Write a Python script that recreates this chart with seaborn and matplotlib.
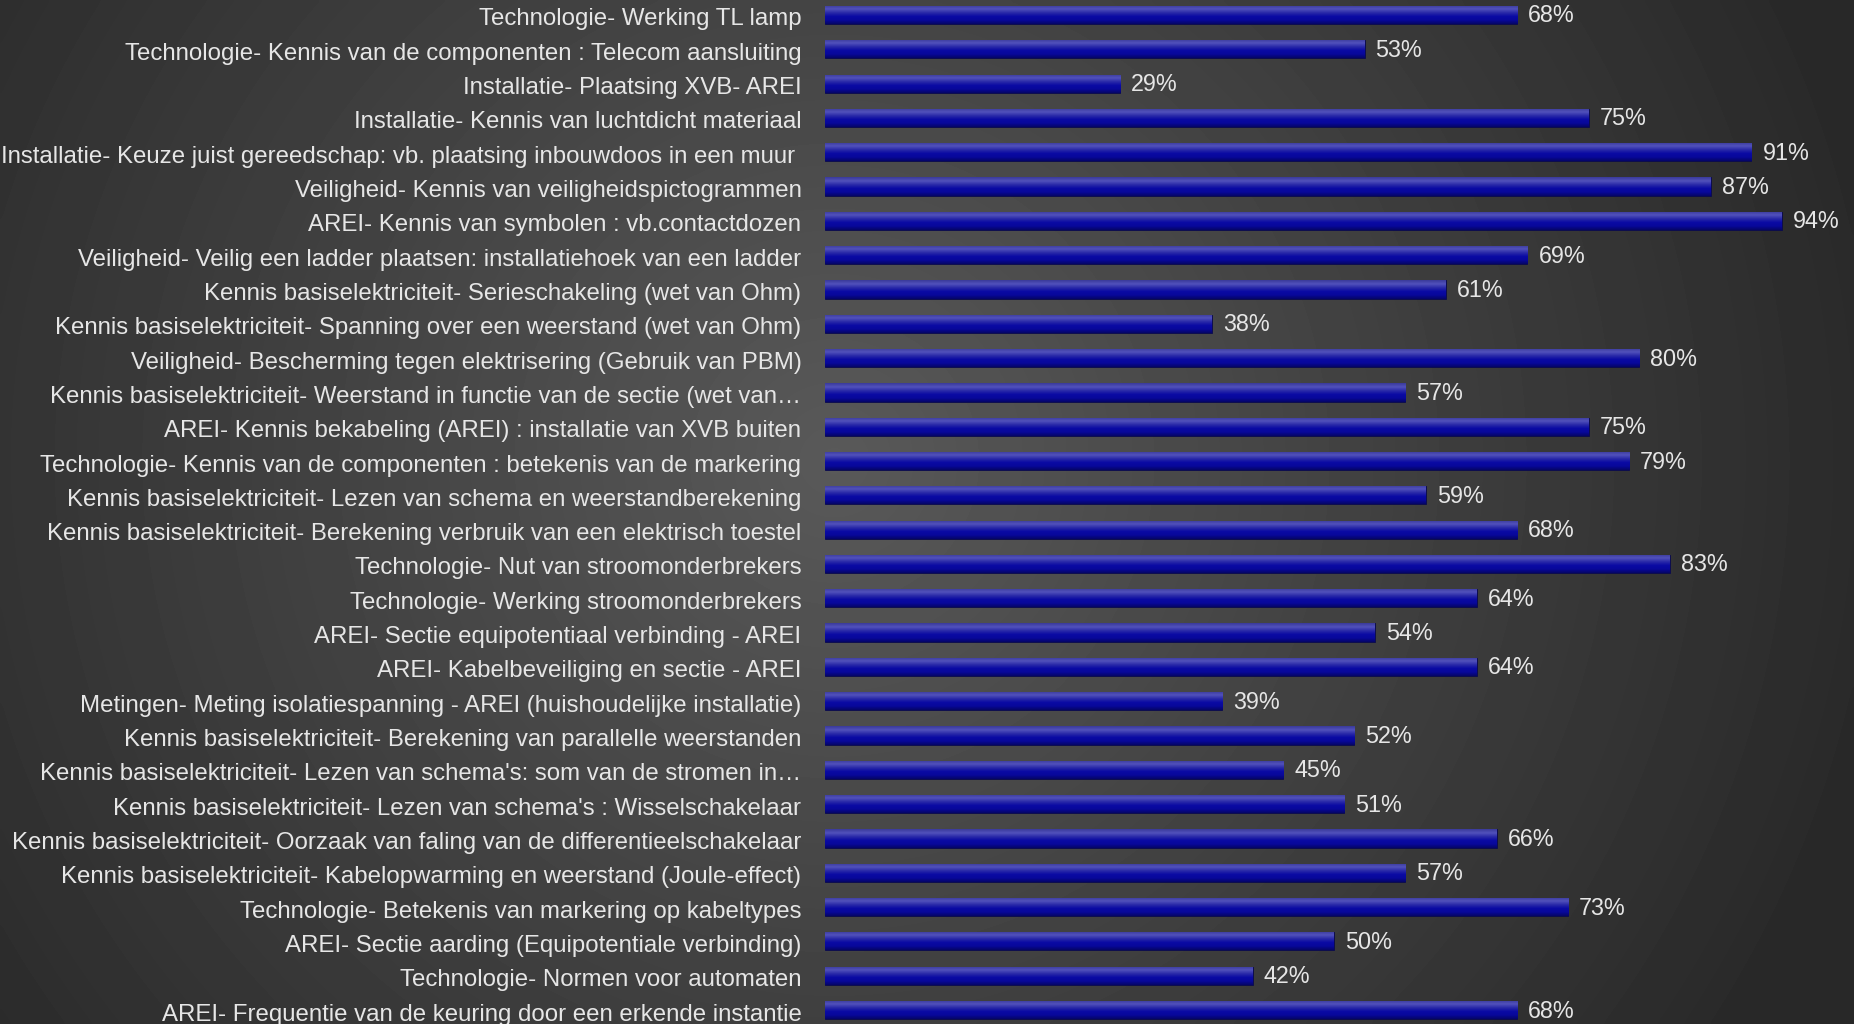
# ==============================
# Scores per competentie - horizontal bar chart
# ==============================

import numpy as np
import pandas as pd
import matplotlib
matplotlib.use("Agg")
import matplotlib.pyplot as plt
import matplotlib.transforms as mtrans
import seaborn as sns
from matplotlib import font_manager

# ------------------------------
# Data
# ------------------------------
categories = [
    "Technologie- Werking TL lamp",
    "Technologie- Kennis van de componenten : Telecom aansluiting",
    "Installatie- Plaatsing XVB- AREI",
    "Installatie- Kennis van luchtdicht materiaal",
    "Installatie- Keuze juist gereedschap: vb. plaatsing inbouwdoos in een muur ",
    "Veiligheid- Kennis van veiligheidspictogrammen",
    "AREI- Kennis van symbolen : vb.contactdozen",
    "Veiligheid- Veilig een ladder plaatsen: installatiehoek van een ladder",
    "Kennis basiselektriciteit- Serieschakeling (wet van Ohm)",
    "Kennis basiselektriciteit- Spanning over een weerstand (wet van Ohm)",
    "Veiligheid- Bescherming tegen elektrisering (Gebruik van PBM)",
    "Kennis basiselektriciteit- Weerstand in functie van de sectie (wet van\u2026",
    "AREI- Kennis bekabeling (AREI) : installatie van XVB buiten",
    "Technologie- Kennis van de componenten : betekenis van de markering",
    "Kennis basiselektriciteit- Lezen van schema en weerstandberekening",
    "Kennis basiselektriciteit- Berekening verbruik van een elektrisch toestel",
    "Technologie- Nut van stroomonderbrekers",
    "Technologie- Werking stroomonderbrekers",
    "AREI- Sectie equipotentiaal verbinding - AREI",
    "AREI- Kabelbeveiliging en sectie - AREI",
    "Metingen- Meting isolatiespanning - AREI (huishoudelijke installatie)",
    "Kennis basiselektriciteit- Berekening van parallelle weerstanden",
    "Kennis basiselektriciteit- Lezen van schema's: som van de stromen in\u2026",
    "Kennis basiselektriciteit- Lezen van schema's : Wisselschakelaar",
    "Kennis basiselektriciteit- Oorzaak van faling van de differentieelschakelaar",
    "Kennis basiselektriciteit- Kabelopwarming en weerstand (Joule-effect)",
    "Technologie- Betekenis van markering op kabeltypes",
    "AREI- Sectie aarding (Equipotentiale verbinding)",
    "Technologie- Normen voor automaten",
    "AREI- Frequentie van de keuring door een erkende instantie",
]
scores = [68, 53, 29, 75, 91, 87, 94, 69, 61, 38, 80, 57, 75, 79, 59,
          68, 83, 64, 54, 64, 39, 52, 45, 51, 66, 57, 73, 50, 42, 68]

data = pd.DataFrame({"Categorie": categories, "Score": scores})

# ------------------------------
# Style
# ------------------------------
sns.set_style("dark")
names = {f.name for f in font_manager.fontManager.ttflist}
family = "Liberation Sans Narrow" if "Liberation Sans Narrow" in names else "Liberation Sans"
plt.rcParams["font.family"] = [family, "DejaVu Sans"]
text_color = "#e6e6e6"

W, H = 1854, 1024
fig = plt.figure(figsize=(W / 100, H / 100), dpi=100)

# background: dark radial gradient, lighter left of centre
bg = fig.add_axes([0, 0, 1, 1])
yy, xx = np.mgrid[0:1:300j, 0:1:540j]
r = np.sqrt(((xx - 0.45) / 0.5) ** 2 + ((yy - 0.45) / 0.9) ** 2)
shade = np.clip(0.35 - 0.165 * r, 0.16, 0.35)
bg.imshow(shade, cmap="gray", vmin=0, vmax=1, aspect="auto",
          extent=[0, 1, 1, 0], interpolation="bicubic")
bg.set_axis_off()

# main axes
left = 825 / W
ax = fig.add_axes([left, 0, 1 - left, 1])
ax.patch.set_alpha(0)

sns.barplot(data=data, y="Categorie", x="Score", orient="h",
            color="#0a0aa0", width=0.53, ax=ax)

# gradient fill for each bar
grad = np.linspace(0, 1, 64).reshape(-1, 1)
bar_cmap = matplotlib.colors.LinearSegmentedColormap.from_list(
    "bar", ["#3a3a9a", "#5252bc", "#2a2aa8", "#0a0aa4", "#08089a", "#050568"])
for p in ax.patches:
    x0, y0 = p.get_x(), p.get_y()
    w, h = p.get_width(), p.get_height()
    p.set_edgecolor("#08084a")
    p.set_linewidth(0.6)
    im = ax.imshow(grad, cmap=bar_cmap, aspect="auto",
                   extent=[x0, x0 + w, y0 + h, y0], zorder=p.get_zorder() + 0.1)
    im.set_clip_path(p)

row = (H - 15 - 14) / 29
ax.set_xlim(0, (W - 825) / 10.18)
ax.set_ylim(29 + 14 / row, -15 / row)

# value labels
for i, v in enumerate(scores):
    ax.annotate(f"{v}%", xy=(v, i), xytext=(11, -1), textcoords="offset pixels",
                va="center", ha="left", color=text_color, fontsize=16.8)

ax.set_xlabel("")
ax.set_ylabel("")
ax.set_xticks([])
ax.tick_params(axis="y", length=0, pad=17, labelsize=17.3, labelcolor=text_color)
shift = mtrans.ScaledTranslation(0, -2 / 100, fig.dpi_scale_trans)
for lab in ax.get_yticklabels():
    lab.set_transform(lab.get_transform() + shift)
for s in ax.spines.values():
    s.set_visible(False)
ax.grid(False)

fig.savefig("out.png", dpi=100)
